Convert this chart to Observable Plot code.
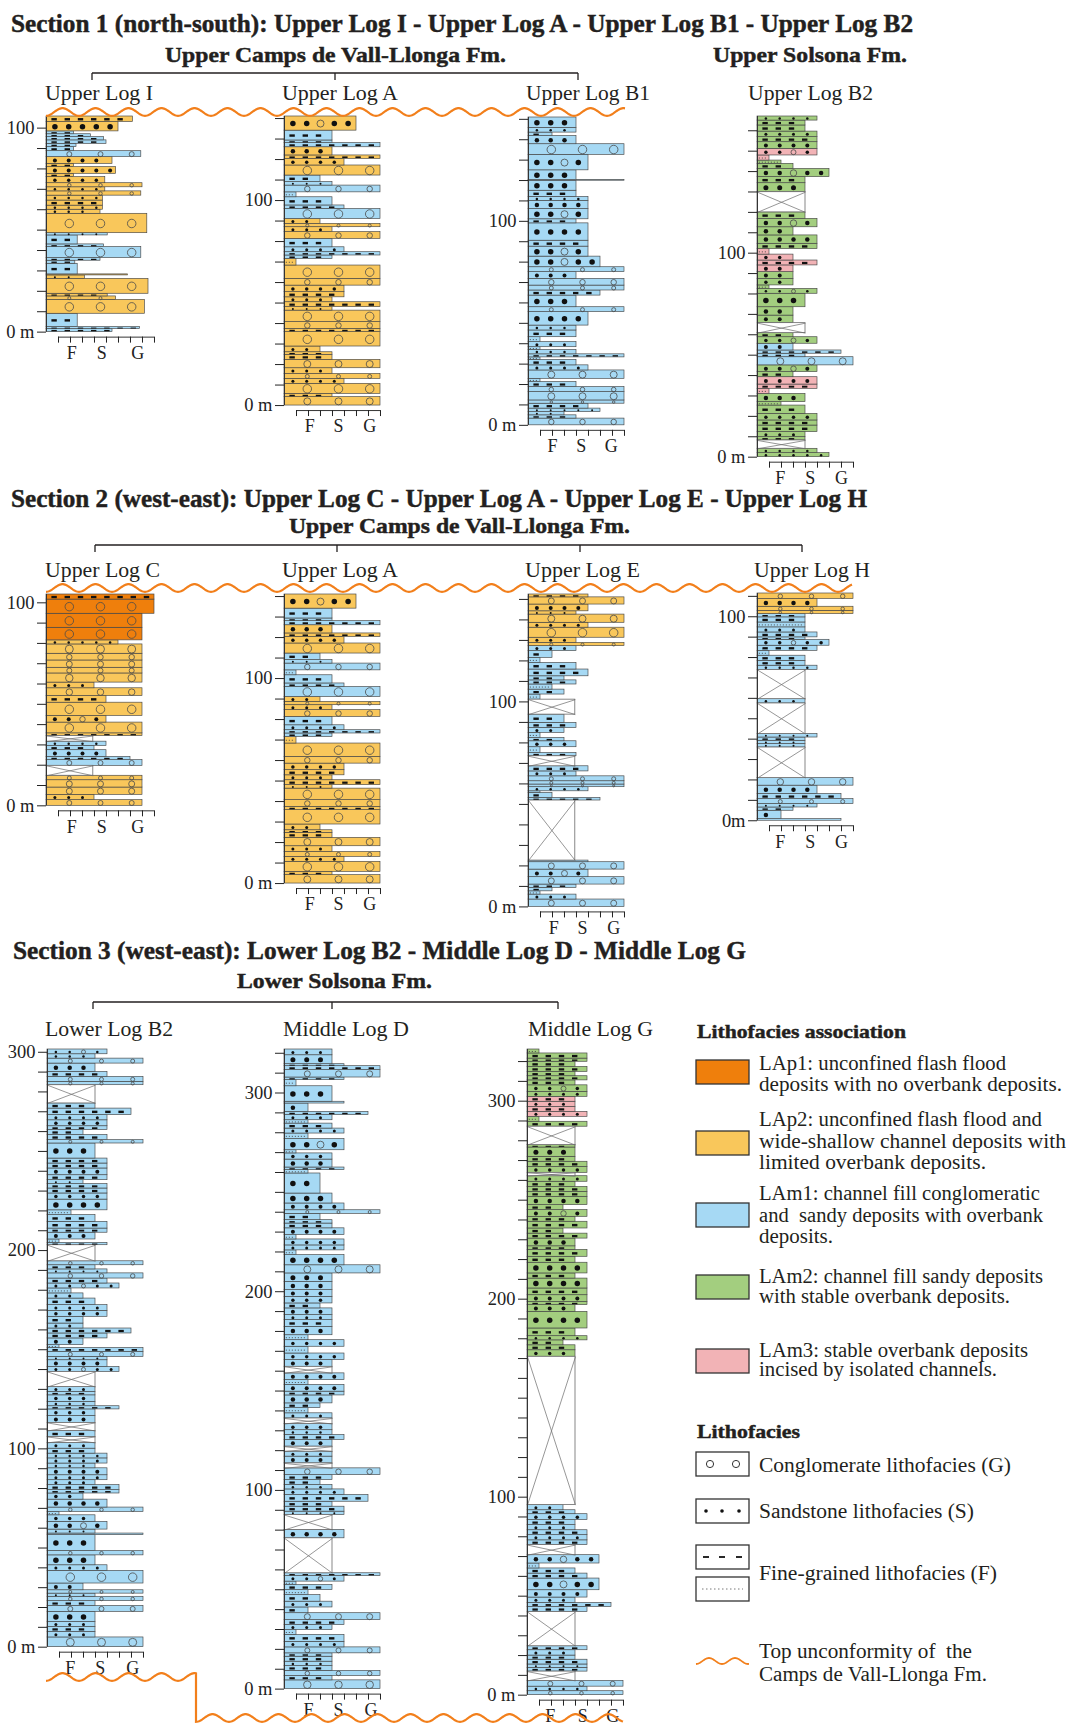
<!DOCTYPE html>
<html><head><meta charset="utf-8">
<script src="https://cdn.jsdelivr.net/npm/d3@7"></script>
<script src="https://cdn.jsdelivr.net/npm/@observablehq/plot@0.6"></script>
<style>
body{margin:0;background:#fff;}
#page{position:relative;width:1070px;height:1725px;overflow:hidden;background:#fff;}
</style></head><body><div id="page"></div>
<script>
// ---------- DATA: beds from bottom to top: [top (m), grain-size width (axis units), facies code] ----------
// code = association (p1,p2,m1,m2,m3) + lithofacies (G conglomerate, S sandstone, SG mixed, F fine dashed, f fine dotted); "X" = covered
const LOG_I = [[1.5,5.5,"m1F"],[2.5,7.8,"m1F"],[9.0,2.6,"m1F"],[15.8,8.2,"p2G"],[17.5,5.8,"p2G"],[18.8,5.1,"p2F"],[26.1,8.5,"p2G"],[27.8,3.2,"p2S"],[28.3,6.8,"p2F"],[33.5,2.6,"m1F"],[35.0,2.4,"m1F"],[36.3,4.5,"m1F"],[41.7,7.9,"m1G"],[43.0,4.8,"m1F"],[47.4,2.6,"m1F"],[48.5,5.1,"m1S"],[58.0,8.4,"p2G"],[60.0,4.5,"p2S"],[62.0,4.7,"p2S"],[64.5,4.7,"p2F"],[66.9,4.7,"p2S"],[69.0,7.9,"p2G"],[71.0,4.9,"p2S"],[73.0,8.0,"p2G"],[76.0,4.9,"p2S"],[77.6,2.3,"p2F"],[80.9,5.8,"p2S"],[82.5,2.3,"p2F"],[85.8,5.5,"p2S"],[88.7,7.9,"m1G"],[90.7,2.3,"m1F"],[92.3,2.5,"m1F"],[94.0,5.0,"m1F"],[95.6,4.8,"m1F"],[97.0,3.7,"m1F"],[98.4,2.3,"m1F"],[103.0,6.0,"p2S"],[105.7,7.2,"p2F"]];
const LOG_A = [[4.1,8,"p2G"],[5.7,4,"p2F"],[10.6,8,"p2G"],[13.0,5,"p2S"],[15.4,8,"p2G"],[18.2,4,"p2S"],[22.3,8,"p2G"],[24.7,4,"p2F"],[26.0,4,"p2F"],[28.8,3,"p2S"],[35.8,8,"p2G"],[37.4,8,"p2F"],[40.7,8,"p2G"],[46.3,8,"p2G"],[48.0,4,"p2S"],[50.4,8,"p2F"],[52.8,4,"p2S"],[55.3,5,"p2F"],[58.5,5,"p2S"],[61.8,8,"p2G"],[68.3,8,"p2G"],[71.5,1,"p2f"],[73.2,4,"m1F"],[74.8,8,"m1F"],[77.2,5,"m1S"],[81.3,4,"m1F"],[84.6,8,"p2G"],[87.0,4,"p2S"],[88.6,8,"p2G"],[91.0,3,"p2S"],[95.9,8,"m1G"],[97.6,5,"m1F"],[101.6,4,"m1F"],[104.0,1,"m1f"],[107.3,8,"m1G"],[109.0,4,"m1S"],[112.2,3,"m1F"],[117.1,8,"p2G"],[120.3,5,"p2S"],[122.0,8,"p2F"],[126.0,4,"p2S"],[128.0,8,"m1F"],[129.3,4,"m1F"],[134.1,4,"m1F"],[141.0,6,"p2SG"]];
const LOG_B1 = [[3.3,8,"m1G"],[4.9,4,"m1F"],[6.5,3,"m1S"],[8.2,6,"m1S"],[10.6,5,"m1F"],[12.2,8,"m1G"],[16.3,8,"m1G"],[18.8,8,"m1G"],[21.2,4,"m1F"],[22.8,1,"m1f"],[26.9,8,"m1G"],[29.4,5,"m1S"],[32.1,4,"m1F"],[33.3,1,"m1f"],[34.8,8,"m1F"],[37.0,4,"m1S"],[38.3,1,"m1f"],[40.8,4,"m1S"],[43.2,1,"m1f"],[46.5,4,"m1F"],[48.9,4,"m1S"],[55.5,5,"m1S"],[57.9,8,"m1G"],[63.6,4,"m1S"],[66.1,6,"m1F"],[68.5,8,"m1G"],[71.8,8,"m1G"],[75.1,4,"m1S"],[77.5,8,"m1G"],[82.7,6,"m1SG"],[87.6,5,"m1SG"],[90.5,5,"m1F"],[99.0,5,"m1S"],[101.0,4,"m1F"],[106.0,5,"m1SG"],[110.0,5,"m1S"],[112.0,5,"m1S"],[115.0,4,"m1F"],[119.9,4,"m1S"],[120.2,8,"m1F"],[125.0,4,"m1S"],[132.6,5,"m1SG"],[137.8,8,"m1G"],[141.8,4,"m1S"],[143.5,2,"m1F"],[145.8,4,"m1S"],[150.9,4,"m1S"]];
const LOG_B2 = [[2.0,6,"m2S"],[4.1,5,"m2S"],[8.2,4,"X"],[9.8,4,"m2F"],[12.3,4,"m2S"],[15.5,5,"m2F"],[18.0,5,"m2F"],[21.2,5,"m2S"],[25.3,4,"m2F"],[27.0,2,"m2f"],[31.0,4,"m2S"],[33.5,1,"m3f"],[35.6,5,"m3F"],[39.2,5,"m3S"],[41.7,3,"m2F"],[45.0,5,"m2SG"],[49.0,8,"m1G"],[50.7,4,"m1F"],[52.3,7,"m1F"],[55.6,3,"m1S"],[58.8,5,"m2SG"],[60.8,3,"m2F"],[65.7,4,"X"],[69.4,3,"m2S"],[73.5,3,"m2S"],[80.1,4,"m2S"],[82.5,5,"m2SG"],[84.2,1,"m2f"],[87.4,3,"m2S"],[90.7,3,"m2S"],[94.0,3,"m3S"],[96.4,5,"m3F"],[99.3,3,"m3S"],[102.0,1,"m3f"],[104.6,5,"m2F"],[108.7,5,"m2S"],[112.7,3,"m2S"],[116.8,5,"m2SG"],[120.0,4,"m2F"],[129.9,4,"X"],[134.3,4,"m2S"],[137.3,4,"m2F"],[141.3,6,"m2SG"],[143.8,3,"m2F"],[145.4,2,"m2f"],[147.9,1,"m3f"],[151.1,5,"m3SG"],[154.4,5,"m2S"],[156.9,5,"m2F"],[159.6,5,"m2S"],[162.6,4,"m2F"],[165.0,4,"m2F"],[167.0,5,"m2S"]];
const LOG_C = [[2.8,8,"p2G"],[5.4,4,"p2S"],[9.0,8,"p2G"],[12.6,8,"p2G"],[14.8,8,"p2G"],[19.7,3.9,"X"],[22.5,8,"m1G"],[24.1,7,"m1F"],[27.4,5,"m1S"],[29.5,4,"m1F"],[31.6,5,"m1S"],[34.4,3.9,"X"],[35.7,8,"p2F"],[41.0,8,"p2G"],[44.3,5,"p2SG"],[50.8,8,"p2G"],[54.1,5,"p2F"],[57.9,8,"p2G"],[60.7,4,"p2S"],[65.2,8,"p2G"],[68.0,8,"p2G"],[71.6,8,"p2G"],[74.9,8,"p2G"],[79.5,8,"p2G"],[81.5,6,"p2S"],[87.7,8,"p1G"],[94.6,8,"p1G"],[101.6,9,"p1G"],[104.1,9,"p1F"]];
const LOG_E = [[3.6,8,"m1G"],[6.0,4,"m1S"],[7.6,1,"m1f"],[9.3,2,"m1F"],[10.9,4,"m1F"],[14.5,8,"m1G"],[18.2,5,"m1SG"],[21.8,8,"m1G"],[22.6,5,"m1F"],[51.9,3.9,"X"],[53.2,6,"m1F"],[55.6,2,"m1F"],[56.4,1,"m1f"],[58.4,5,"m1S"],[59.7,8,"m1G"],[61.3,8,"m1G"],[63.7,8,"m1G"],[66.1,4,"m1S"],[68.6,5,"m1F"],[73.5,3.9,"X"],[75.1,4,"m1F"],[77.9,1,"m1f"],[80.8,4,"m1S"],[82.4,3,"m1F"],[84.9,1,"m1f"],[87.3,3,"m1S"],[89.8,4,"m1F"],[93.8,3,"m1F"],[101.1,3.9,"X"],[103.6,1,"m1f"],[106.0,3,"m1F"],[108.5,2,"m1f"],[110.5,4,"m1F"],[112.5,3,"m1F"],[115.8,5,"m1F"],[119.0,4,"m1F"],[121.5,1,"m1f"],[124.8,2,"m1F"],[127.2,4,"m1S"],[128.8,8,"p2G"],[131.3,4,"p2S"],[136.2,8,"p2G"],[138.6,5,"p2S"],[142.6,8,"p2G"],[144.2,4,"p2S"],[147.5,5,"p2S"],[151.0,8,"p2G"],[152.4,5,"p2F"]];
const LOG_H = [[0.8,7,"m1F"],[4.9,2,"m1S"],[6.5,3,"m1F"],[8.2,5,"m1S"],[10.6,8,"m1G"],[13.1,7,"m1F"],[17.2,5,"m1S"],[20.9,8,"m1G"],[35.9,4,"X"],[37.6,4,"m1S"],[39.2,4,"m1S"],[40.8,4,"m1F"],[42.5,5,"m1S"],[57.5,4,"X"],[59.6,4,"m1S"],[73.9,4,"X"],[76.0,5,"m1S"],[78.4,4,"m1F"],[80.9,4,"m1F"],[83.3,1,"m1f"],[85.8,5,"m1F"],[88.7,6,"m1SG"],[89.9,4,"m1F"],[92.3,5,"m1F"],[94.8,4,"m1S"],[97.2,4,"m1f"],[99.7,4,"m1F"],[101.3,4,"m1F"],[102.9,8,"p2G"],[104.9,8,"p2G"],[108.7,5,"p2S"],[111.4,8,"p2G"]];
const LOWER_B2 = [[4.9,8,"m1G"],[7.7,4,"m1S"],[10.2,4,"m1F"],[12.7,4,"m1S"],[17.8,4,"m1S"],[20.8,8,"m1G"],[23.2,4,"m1F"],[25.4,8,"m1G"],[27.0,4,"m1S"],[28.7,8,"m1G"],[32.1,3,"m1S"],[38.5,8,"m1G"],[41.3,5,"m1S"],[46.3,4,"m1S"],[48.5,8,"m1G"],[56.5,4,"m1S"],[57.3,8,"m1F"],[59.3,4,"m1S"],[63.2,5,"m1SG"],[66.5,4,"m1S"],[68.2,1,"m1f"],[70.4,8,"m1G"],[74.4,5,"m1S"],[77.5,3,"m1S"],[79.2,6,"m1F"],[81.7,6,"m1F"],[84.2,4,"m1S"],[86.7,5,"m1S"],[90.2,5,"m1S"],[92.6,4,"m1S"],[95.2,5,"m1S"],[97.6,5,"m1S"],[100.1,4,"m1F"],[103.0,4,"m1S"],[106.0,4,"X"],[109.0,4,"m1F"],[113.1,4,"X"],[116.6,4,"m1S"],[119.9,4,"m1S"],[121.5,6,"m1F"],[123.7,4,"m1S"],[127.0,4,"m1S"],[128.7,4,"m1F"],[131.2,4,"m1S"],[138.8,4,"X"],[141.3,6,"m1SG"],[144.7,5,"m1S"],[146.4,5,"m1S"],[148.9,8,"m1G"],[150.9,8,"m1F"],[152.3,1,"m1f"],[155.7,3,"m1S"],[158.2,5,"m1F"],[160.7,7,"m1F"],[163.2,3,"m1S"],[166.6,3,"m1F"],[169.6,5,"m1S"],[172.5,5,"m1S"],[175.8,4,"m1F"],[178.4,3,"m1S"],[180.9,2,"m1f"],[183.4,6,"m1SG"],[185.9,5,"m1F"],[188.5,8,"m1G"],[190.5,5,"m1S"],[192.6,4,"m1F"],[194.6,8,"m1G"],[202.7,4,"X"],[203.9,5,"m1F"],[205.6,1,"m1f"],[209.0,4,"m1S"],[211.1,5,"m1F"],[214.5,5,"m1F"],[217.9,4,"m1F"],[220.3,2,"m1f"],[225.7,5,"m1S"],[228.8,5,"m1S"],[231.3,5,"m1F"],[233.5,5,"m1F"],[235.5,3,"m1S"],[238.0,5,"m1F"],[241.4,5,"m1S"],[243.9,5,"m1F"],[246.4,5,"m1F"],[254.0,4,"m1S"],[255.7,8,"m1G"],[258.3,5,"m1F"],[260.8,3,"m1F"],[262.7,5,"m1F"],[265.7,5,"m1S"],[268.3,5,"m1S"],[271.6,7,"m1F"],[274.2,4,"m1F"],[283.4,4,"X"],[285.1,8,"m1G"],[287.6,8,"m1G"],[290.1,5,"m1F"],[294.3,4,"m1S"],[296.8,8,"m1G"],[299.0,4,"m1S"],[301.4,5,"m1SG"]];
const MIDDLE_D = [[4.4,8,"m1G"],[6.6,4,"m1F"],[9.2,8,"m1G"],[11.6,4,"m1F"],[13.8,4,"m1S"],[16.3,4,"m1F"],[18.0,4,"m1F"],[21.0,8,"m1G"],[23.8,5,"m1S"],[27.3,5,"m1F"],[29.7,1,"m1f"],[32.2,4,"m1S"],[34.7,5,"m1F"],[38.2,8,"m1G"],[41.1,2,"m1F"],[44.0,4,"m1S"],[47.3,3,"m1F"],[49.8,2,"m1f"],[52.4,4,"m1F"],[54.1,1,"m1f"],[56.9,5,"m1SG"],[58.3,8,"m1F"],[75.9,4,"X"],[80.1,5,"m1S"],[87.6,4,"X"],[89.3,5,"m1S"],[91.8,5,"m1F"],[94.3,4,"m1F"],[97.7,7,"m1F"],[100.5,5,"m1S"],[102.7,4,"m1S"],[105.2,3,"m1F"],[107.7,4,"m1F"],[111.1,8,"m1G"],[113.6,4,"X"],[117.0,4,"m1S"],[119.5,4,"m1S"],[122.0,4,"X"],[125.4,4,"m1S"],[127.9,5,"m1F"],[130.3,4,"m1S"],[133.4,4,"m1S"],[136.2,4,"X"],[138.8,4,"m1S"],[141.4,2,"m1f"],[143.8,3,"m1F"],[147.8,4,"m1S"],[149.7,5,"m1F"],[153.1,5,"m1S"],[155.5,2,"m1f"],[158.9,5,"m1S"],[162.2,4,"X"],[165.6,4,"m1S"],[168.9,5,"m1S"],[172.3,2,"m1f"],[175.6,5,"m1S"],[178.1,2,"m1f"],[182.3,4,"m1S"],[185.7,4,"m1F"],[188.2,4,"m1S"],[191.6,4,"m1S"],[194.1,3,"m1F"],[197.4,4,"m1S"],[200.8,4,"m1S"],[204.9,4,"m1S"],[209.2,4,"m1S"],[213.3,8,"m1G"],[218.4,5,"m1S"],[220.8,1,"m1f"],[223.3,5,"m1S"],[226.3,5,"m1S"],[228.5,1,"m1f"],[231.9,5,"m1S"],[234.3,4,"m1F"],[236.0,4,"m1F"],[239.2,3,"m1F"],[241.0,8,"m1G"],[244.4,5,"m1S"],[249.4,4,"m1S"],[259.5,3,"m1S"],[261.2,2,"m1f"],[262.5,5,"m1F"],[266.5,4,"m1S"],[269.6,4,"m1S"],[271.2,1,"m1f"],[276.8,5,"m1SG"],[279.6,2,"m1f"],[282.1,5,"m1S"],[284.6,4,"m1F"],[286.3,2,"m1f"],[288.9,4,"m1S"],[290.5,7,"m1F"],[294.7,2,"m1S"],[295.6,5,"m1F"],[303.4,4,"m1S"],[306.5,1,"m1f"],[307.8,5,"m1F"],[311.5,8,"m1G"],[313.5,8,"m1F"],[314.5,5,"m1F"],[319.0,4,"m1S"],[321.9,4,"m1S"]];
const MIDDLE_G = [[2.0,8,"m1G"],[4.3,5,"m1S"],[7.2,8,"m1G"],[11.9,4,"X"],[13.8,5,"m1F"],[15.5,5,"m1S"],[17.9,5,"m1F"],[20.0,4,"m1F"],[22.7,4,"m1S"],[24.7,5,"m1F"],[42.0,4,"X"],[44.5,5,"m1F"],[46.6,7,"m1F"],[49.3,4,"m1S"],[53.0,5,"m1S"],[58.9,6,"m1SG"],[61.4,5,"m1F"],[64.0,4,"m1F"],[66.5,1,"m1f"],[70.7,6,"m1SG"],[75.8,4,"X"],[78.2,5,"m1F"],[80.8,5,"m1S"],[83.3,5,"m1F"],[85.9,4,"m1S"],[88.4,4,"m1F"],[91.4,5,"m1S"],[93.4,4,"m1F"],[96.0,3,"m1S"],[170.9,4,"X"],[174.2,4,"m2S"],[176.7,4,"m2F"],[179.2,3,"m2F"],[181.3,5,"m2S"],[185.2,4,"m2F"],[193.6,5,"m2S"],[197.0,4,"m2S"],[198.6,5,"m2F"],[202.0,5,"m2S"],[205.4,5,"m2F"],[210.4,5,"m2S"],[213.0,4,"m2F"],[218.4,5,"m2S"],[221.4,4,"m2F"],[224.9,5,"m2F"],[226.7,4,"m2F"],[230.6,4,"m2S"],[233.1,5,"m2F"],[235.7,3,"m2F"],[239.1,5,"m2F"],[241.6,4,"m2F"],[245.0,5,"m2SG"],[247.5,3,"m2F"],[251.7,5,"m2S"],[254.2,5,"m2F"],[256.7,5,"m2F"],[259.3,4,"m2F"],[262.1,5,"m2S"],[263.8,4,"X"],[266.8,5,"m2S"],[269.4,5,"m2F"],[271.9,4,"m2F"],[276.6,4,"m2S"],[277.8,4,"m2F"],[287.1,4,"X"],[289.6,5,"m2F"],[292.1,1,"m2f"],[294.6,5,"m3S"],[297.1,4,"m3F"],[299.7,4,"m3S"],[302.2,4,"m3F"],[304.7,5,"m2S"],[308.0,5,"m2SG"],[310.5,4,"m2F"],[312.6,5,"m2F"],[314.8,4,"m2F"],[317.3,5,"m2F"],[319.9,4,"m2F"],[321.5,5,"m2F"],[324.1,5,"m2F"],[326.1,1,"m2f"]];

const GRAIN_LABELS = ["F","S","G"];
const ASSOC_COLORS = {p1:"#EF7F0C", p2:"#F9C75B", m1:"#A6D9F4", m2:"#A3CE7F", m3:"#F2B3B6"};

const SECTION_TITLES = [
  ["Section 1 (north-south): Upper Log I - Upper Log A - Upper Log B1 - Upper Log B2", 11, 32, 902],
  ["Section 2 (west-east): Upper Log C - Upper Log A - Upper Log E - Upper Log H", 11, 507, 856],
  ["Section 3 (west-east): Lower Log B2 - Middle Log D - Middle Log G", 13, 959, 733]
];
const FORMATIONS = [
  ["Upper Camps de Vall-Llonga Fm.", 165, 62, 341],
  ["Upper Solsona Fm.", 713, 62, 194],
  ["Upper Camps de Vall-Llonga Fm.", 289, 533, 341],
  ["Lower Solsona Fm.", 237, 988, 195]
];
const BRACKETS = [
  {y:73, ticks:[92,335,578]},
  {y:545, ticks:[95,337,580,802]},
  {y:1002, ticks:[93,332,558]}
];

// Log layout: name, data, column left, pixel of 0 m, px per m, top (m), last y tick, x tick count, F/S/G label positions, zero label
const LOGS = [
  {name:"Upper Log I", data:LOG_I, left:46, y0:332, pxm:2.04, top:105.7, yMax:100, xt:9, fsg:[2.1,4.6,7.6], zero:"0 m", tx:45, ty:100, tl:108},
  {name:"Upper Log A", data:LOG_A, left:284, y0:405, pxm:2.05, top:141, yMax:140, xt:8, fsg:[2.1,4.5,7.1], zero:"0 m", tx:282, ty:100, tl:116},
  {name:"Upper Log B1", data:LOG_B1, left:528, y0:425, pxm:2.04, top:150.9, yMax:150, xt:8, fsg:[2.0,4.4,6.9], zero:"0 m", tx:526, ty:100, tl:124},
  {name:"Upper Log B2", data:LOG_B2, left:757, y0:457, pxm:2.04, top:167, yMax:160, xt:8, fsg:[1.9,4.4,7.0], zero:"0 m", tx:748, ty:100, tl:125},
  {name:"Upper Log C", data:LOG_C, left:46, y0:805, pxm:2.03, top:104.1, yMax:100, xt:9, fsg:[2.1,4.6,7.6], zero:"0 m", tx:45, ty:577, tl:115},
  {name:"Upper Log A", data:LOG_A, left:284, y0:883, pxm:2.05, top:141, yMax:140, xt:8, fsg:[2.1,4.5,7.1], zero:"0 m", tx:282, ty:577, tl:116},
  {name:"Upper Log E", data:LOG_E, left:528, y0:906, pxm:2.05, top:152.4, yMax:150, xt:8, fsg:[2.1,4.5,7.1], zero:"0 m", tx:525, ty:577, tl:115},
  {name:"Upper Log H", data:LOG_H, left:757, y0:820, pxm:2.04, top:111.4, yMax:110, xt:8, fsg:[1.9,4.4,7.0], zero:"0m", tx:754, ty:577, tl:116},
  {name:"Lower Log B2", data:LOWER_B2, left:47, y0:1647, pxm:1.983, top:301.4, yMax:300, xt:8, fsg:[1.9,4.4,7.1], zero:"0 m", tx:45, ty:1036, tl:128},
  {name:"Middle Log D", data:MIDDLE_D, left:284, y0:1689, pxm:1.987, top:321.9, yMax:320, xt:8, fsg:[2.0,4.5,7.2], zero:"0 m", tx:283, ty:1036, tl:126},
  {name:"Middle Log G", data:MIDDLE_G, left:527, y0:1695, pxm:1.98, top:326.1, yMax:320, xt:8, fsg:[1.9,4.6,7.1], zero:"0 m", tx:528, ty:1036, tl:125}
];

const LEGEND_ASSOC = [
  {key:"p1", y:1060, lines:[["LAp1: unconfined flash flood",1070,247],["deposits with no overbank deposits.",1091,303]]},
  {key:"p2", y:1131, lines:[["LAp2: unconfined flash flood and",1126,283],["wide-shallow channel deposits with",1148,307],["limited overbank deposits.",1169,227]]},
  {key:"m1", y:1203, lines:[["LAm1: channel fill conglomeratic",1200,281],["and  sandy deposits with overbank",1222,284],["deposits.",1243,74]]},
  {key:"m2", y:1275, lines:[["LAm2: channel fill sandy deposits",1283,284],["with stable overbank deposits.",1303,251]]},
  {key:"m3", y:1349, lines:[["LAm3: stable overbank deposits",1357,269],["incised by isolated channels.",1376,238]]}
];
const LEGEND_LITHO = [
  {kind:"G", y:1452, text:"Conglomerate lithofacies (G)", base:1472, len:252},
  {kind:"S", y:1499, text:"Sandstone lithofacies (S)", base:1518, len:215},
  {kind:"F", y:1545, text:"Fine-grained lithofacies (F)", base:1580, len:238},
  {kind:"f", y:1577, text:null}
];

// ---------- helpers ----------
const SERIF = '"Liberation Serif","Times New Roman",serif';
const UNIT = 12;
function toBeds(rows){
  let b = 0;
  return rows.map(([t,w,c]) => { const d = {b, t, w, a: c==="X" ? "X" : c.slice(0,2), l: c==="X" ? "X" : c.slice(2)}; b = t; return d; });
}
function symbols(beds, pxm){
  const circ=[], dots=[], dash=[], dotted=[];
  for (const d of beds){
    const h = (d.t-d.b)*pxm, y = (d.b+d.t)/2;
    if (d.l==="X" || h < 1.8) continue;
    if (d.l==="G"){
      const xs = [1.9,4.5,7.1].filter(x => x < d.w-0.45);
      if (!xs.length) xs.push(d.w/2);
      const r = Math.min(4.3, h*0.42);
      xs.forEach(x => circ.push({x, y, r}));
    } else if (d.l==="S" || d.l==="SG"){
      const r = Math.min(2.7, Math.max(1, h*0.28));
      let i = 0;
      for (let x=0.7; x < d.w-0.35; x += 1.15, i++){
        if (d.l==="SG" && i===2) circ.push({x, y, r: Math.min(3.6, h*0.4)});
        else dots.push({x, y, r});
      }
    } else if (d.l==="F"){
      const sw = Math.min(2.4, h*0.45);
      for (let x=0.45; x+0.45 < d.w-0.1; x += 1.1) dash.push({x1:x, x2:x+0.45, y, sw});
    } else if (d.l==="f"){
      dotted.push({x1:0.15, x2:d.w-0.15, y});
    }
  }
  return {circ, dots, dash, dotted};
}
const rKey = d => Math.round(d.r*4)/4;

const page = document.getElementById("page");

function drawLog(cfg){
  const beds = toBeds(cfg.data);
  const solid = beds.filter(d => d.a !== "X");
  const covered = beds.filter(d => d.a === "X");
  const sym = symbols(beds, cfg.pxm);
  const ml = 50, mr = 8, mt = 6, mb = 38;
  const wU = cfg.xt + 0.5, plotW = wU*UNIT;
  const yBot = -5/cfg.pxm;
  const plotH = (cfg.top - yBot)*cfg.pxm;
  const fsg = cfg.fsg.map((x,i) => ({x, t: GRAIN_LABELS[i]}));
  const marks = [
    Plot.rect(solid, {x1:0, x2:"w", y1:"b", y2:"t", fill: d => ASSOC_COLORS[d.a], stroke:"#444", strokeWidth:0.65}),
    Plot.rect(covered, {x1:0, x2:"w", y1:"b", y2:"t", fill:"white", stroke:"#6a6a6a", strokeWidth:0.8}),
    Plot.link(covered, {x1:0, y1:"b", x2:"w", y2:"t", stroke:"#6a6a6a", strokeWidth:0.7}),
    Plot.link(covered, {x1:0, y1:"t", x2:"w", y2:"b", stroke:"#6a6a6a", strokeWidth:0.7}),
    Plot.ruleY(sym.dotted, {y:"y", x1:"x1", x2:"x2", stroke:"#444", strokeWidth:0.8, strokeDasharray:"1.2,1.8"}),
    Plot.ruleY(sym.dash, {y:"y", x1:"x1", x2:"x2", strokeWidth:"sw", stroke:"#111"}),
    ...d3.groups(sym.dots, rKey).map(([r, arr]) => Plot.dot(arr, {x:"x", y:"y", r, fill:"#111", stroke:"none"})),
    ...d3.groups(sym.circ, rKey).map(([r, arr]) => Plot.dot(arr, {x:"x", y:"y", r, fill:"none", stroke:"#4a4a4a", strokeWidth:0.8})),
    Plot.ruleX([0], {y1:0, y2:cfg.top, stroke:"#333", strokeWidth:1}),
    Plot.ruleY([yBot], {x1:1, x2:cfg.xt, stroke:"#333", strokeWidth:1}),
    Plot.axisY({ticks: d3.range(0, cfg.yMax+1, 10), tickSize:9, tickPadding:3, label:null,
      tickFormat: d => d===0 ? cfg.zero : (d%100===0 ? String(d) : "")}),
    Plot.axisX({ticks: d3.range(1, cfg.xt+1), tickSize:6, tickFormat: () => "", label:null}),
    Plot.text(fsg, {x:"x", y: () => yBot, text:"t", dy:16, fontSize:18})
  ];
  const svg = Plot.plot({
    width: ml+plotW+mr, height: mt+plotH+mb,
    marginLeft: ml, marginRight: mr, marginTop: mt, marginBottom: mb,
    x: {domain:[0,wU], range:[ml, ml+plotW]},
    y: {domain:[yBot, cfg.top], range:[mt+plotH, mt]},
    style: {fontFamily: SERIF, fontSize:"18.5px", color:"#222", background:"transparent", overflow:"visible"},
    marks
  });
  svg.style.position = "absolute";
  svg.style.left = (cfg.left - ml) + "px";
  svg.style.top = (cfg.y0 - mt - cfg.top*cfg.pxm) + "px";
  svg.style.maxWidth = "none";
  page.appendChild(svg);
}
LOGS.forEach(drawLog);

// ---------- overlay: titles, brackets, unconformity lines, legend ----------
const ov = d3.select(page).append("svg").attr("width",1070).attr("height",1725)
  .style("position","absolute").style("left","0px").style("top","0px").style("pointer-events","none");
function txt(s, x, y, size, bold, len){
  const t = ov.append("text").attr("x",x).attr("y",y).attr("font-family",SERIF).attr("font-size",size)
    .attr("font-weight", bold ? "bold" : "normal").attr("fill","#231f20").style("white-space","pre").text(s);
  if (bold) t.attr("stroke","#231f20").attr("stroke-width",0.45);
  if (len) t.attr("textLength",len).attr("lengthAdjust","spacingAndGlyphs");
  return t;
}
SECTION_TITLES.forEach(([s,x,y,l]) => txt(s,x,y,25,true,l));
FORMATIONS.forEach(([s,x,y,l]) => txt(s,x,y,22,true,l));
BRACKETS.forEach(b => {
  const x1 = d3.min(b.ticks), x2 = d3.max(b.ticks);
  ov.append("line").attr("x1",x1).attr("x2",x2).attr("y1",b.y).attr("y2",b.y).attr("stroke","#231f20").attr("stroke-width",1.3);
  b.ticks.forEach(x => ov.append("line").attr("x1",x).attr("x2",x).attr("y1",b.y).attr("y2",b.y+7).attr("stroke","#231f20").attr("stroke-width",1.3));
});
LOGS.forEach(c => txt(c.name, c.tx, c.ty, 22, false, c.tl));

function wavePts(x0, x1, yc, period, amp){
  const pts = [];
  for (let x=x0; x<=x1; x+=1) pts.push([x, yc + amp*Math.cos(2*Math.PI*(x-x0)/period)]);
  return pts;
}
const line = d3.line();
const ORANGE = "#F27F1B";
[[46,625,112],[46,852,588]].forEach(([a,b,y]) =>
  ov.append("path").attr("d", line(wavePts(a,b,y,33,3.8))).attr("fill","none").attr("stroke",ORANGE).attr("stroke-width",2.2));
{
  const p1 = wavePts(46,196,1677,33,3.8), p2 = wavePts(196,623,1718,33,3.8);
  ov.append("path").attr("d", line([...p1, [196,1718], ...p2])).attr("fill","none").attr("stroke",ORANGE).attr("stroke-width",2.2);
}

// legend
txt("Lithofacies association", 697, 1038, 19, true, 209);
LEGEND_ASSOC.forEach(it => {
  ov.append("rect").attr("x",696).attr("y",it.y).attr("width",53).attr("height",24)
    .attr("fill",ASSOC_COLORS[it.key]).attr("stroke","#333").attr("stroke-width",1.3);
  it.lines.forEach(([s,y,l]) => txt(s, 759, y, 20, false, l));
});
txt("Lithofacies", 697, 1438, 19, true, 103);
LEGEND_LITHO.forEach(it => {
  ov.append("rect").attr("x",696).attr("y",it.y).attr("width",53).attr("height",24)
    .attr("fill","white").attr("stroke","#333").attr("stroke-width",1.3);
  const cy = it.y + 12;
  if (it.kind==="G") [710,736].forEach(x => ov.append("circle").attr("cx",x).attr("cy",cy).attr("r",3.6).attr("fill","none").attr("stroke","#333"));
  if (it.kind==="S") [706,722,739].forEach(x => ov.append("circle").attr("cx",x).attr("cy",cy).attr("r",1.8).attr("fill","#111"));
  if (it.kind==="F") [703,719,736].forEach(x => ov.append("line").attr("x1",x).attr("x2",x+6).attr("y1",cy).attr("y2",cy).attr("stroke","#111").attr("stroke-width",1.8));
  if (it.kind==="f") ov.append("line").attr("x1",702).attr("x2",743).attr("y1",cy).attr("y2",cy).attr("stroke","#555").attr("stroke-width",0.8).attr("stroke-dasharray","1.5,2.5");
  if (it.text) txt(it.text, 759, it.base, 20, false, it.len);
});
ov.append("path").attr("d", line(wavePts(696,749,1661,26,3))).attr("fill","none").attr("stroke",ORANGE).attr("stroke-width",1.8);
txt("Top unconformity of  the", 759, 1658, 20, false, 213);
txt("Camps de Vall-Llonga Fm.", 759, 1681, 20, false, 228);
</script></body></html>
